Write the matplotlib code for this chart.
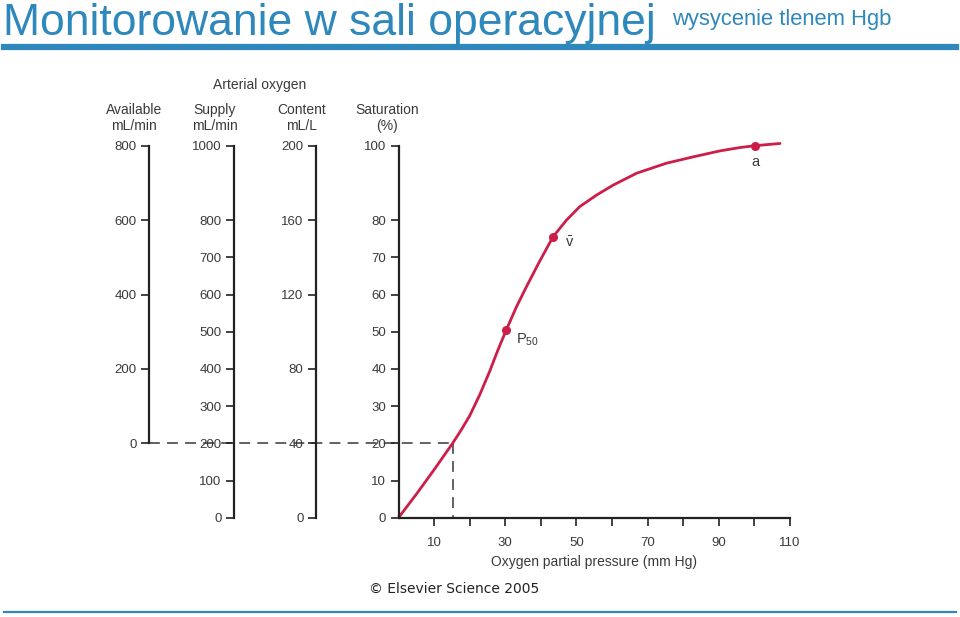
import matplotlib
matplotlib.use('Agg')
import matplotlib.pyplot as plt

plt.rcParams['font.family'] = ['Liberation Sans', 'DejaVu Sans']
plt.rcParams['mathtext.default'] = 'regular'

W, H = 960, 617

# oxygen dissociation curve
pressure = [0, 5, 10, 15.2, 17.5, 20.0, 22.8, 25.6, 27.9, 30.3, 33.1, 35.9, 39.2,
            43.4, 47.2, 50.9, 55.6, 60.3, 66.9, 75.3, 82.8, 90.3, 95.9, 100.1, 107.2]
saturation = [0, 6.3, 12.9, 20, 23.4, 27.4, 33.0, 39.3, 45, 50.5, 56.6, 62.0, 68.1,
              75.5, 80.0, 83.6, 86.7, 89.4, 92.6, 95.3, 97.0, 98.6, 99.5, 100, 100.6]

# marked points
mark_labels = ['$P_{50}$', r'$\bar{v}$', 'a']
mark_p = [30.3, 43.4, 100.1]
mark_s = [50.5, 75.5, 100]

# axis ticks
pressure_ticks = [10, 30, 50, 70, 90, 110]
pressure_minor = [20, 40, 60, 80, 100]
sat_ticks = [0, 10, 20, 30, 40, 50, 60, 70, 80, 100]
content_ticks = [0, 40, 80, 120, 160, 200]
supply_ticks = [0, 100, 200, 300, 400, 500, 600, 700, 800, 1000]
avail_ticks = [0, 200, 400, 600, 800]

# dashed reading line
read_p, read_s = 15.2, 20

blue = '#2e88bb'
red = '#cc1f48'
ink = '#222222'
label_c = '#3a3a3a'


def box(x0, y0, x1, y1):
    return [x0 / W, 1 - y1 / H, (x1 - x0) / W, (y1 - y0) / H]


def fx(x):
    return x / W


def fy(y):
    return 1 - y / H


fig = plt.figure(figsize=(9.6, 6.17), dpi=100)

# slide title
fig.text(fx(3), fy(24), 'Monitorowanie w sali operacyjnej', color=blue,
         fontsize=32, va='center', ha='left')
fig.text(fx(672), fy(19), 'wysycenie tlenem Hgb', color=blue,
         fontsize=15.8, va='center', ha='left')
fig.add_artist(plt.Line2D([fx(4), fx(956)], [fy(47), fy(47)], color=blue, lw=4.5))
fig.add_artist(plt.Line2D([fx(4), fx(956)], [fy(612), fy(612)], color=blue, lw=1.6))

tick_kw = dict(direction='out', length=6, width=1.2, colors=ink,
               labelcolor=label_c, labelsize=9.5, pad=3)

# main axes: saturation vs pressure
top, bottom = 145.7, 517.7
left, right = 398.5, 790
ax = fig.add_axes(box(left, top, right, bottom))
ax.set_xlim(0, 110)
ax.set_ylim(0, 100)
ax.patch.set_alpha(0)
for s in ['top', 'right']:
    ax.spines[s].set_visible(False)
for s in ['left', 'bottom']:
    ax.spines[s].set_linewidth(1.6)
    ax.spines[s].set_color(ink)
ax.set_xticks(pressure_ticks)
ax.set_xticks(pressure_minor, minor=True)
ax.set_yticks(sat_ticks)
ax.tick_params(axis='both', which='both', **tick_kw)
ax.tick_params(axis='x', which='major', pad=8)
ax.set_xlabel('Oxygen partial pressure (mm Hg)', fontsize=10, color=label_c, labelpad=4)

ax.plot(pressure, saturation, color=red, lw=2, clip_on=False,
        solid_capstyle='round', solid_joinstyle='round')
ax.plot(mark_p, mark_s, 'o', color=red, ms=5.5, clip_on=False)
ax.text(mark_p[0] + 2.6, mark_s[0] - 2.6, mark_labels[0], fontsize=10.5, color=label_c, va='center')
ax.text(mark_p[1] + 3.3, mark_s[1] - 1.6, mark_labels[1], fontsize=10.5, color=label_c, va='center')
ax.text(mark_p[2] + 0.3, mark_s[2] - 4.3, mark_labels[2], fontsize=10.5, color=label_c, va='center', ha='center')

# extra vertical scales
def side_axis(x, lo, hi, ticks, bounds=None):
    a = fig.add_axes(box(x, top, x + 1, bottom))
    a.set_ylim(lo, hi)
    a.patch.set_alpha(0)
    for s in ['top', 'right', 'bottom']:
        a.spines[s].set_visible(False)
    a.spines['left'].set_linewidth(1.6)
    a.spines['left'].set_color(ink)
    if bounds:
        a.spines['left'].set_bounds(*bounds)
    a.set_xticks([])
    a.set_yticks(ticks)
    a.tick_params(axis='y', **tick_kw)
    return a


side_axis(316, 0, 200, content_ticks)
side_axis(234, 0, 1000, supply_ticks)
avail_x = 149
side_axis(avail_x, -200, 800, avail_ticks, bounds=(0, 800))

# dashed reading lines (from the Available axis zero to the curve and down)
x_left = (avail_x - left) / (right - left) * 110
ax.plot([x_left, read_p], [read_s, read_s], color='#555555', lw=1.3,
        dashes=(6, 4), clip_on=False, zorder=1)
ax.plot([read_p, read_p], [read_s, 0], color='#555555', lw=1.3,
        dashes=(6, 4), clip_on=False, zorder=1)

# column headers
hdr = dict(fontsize=10, color=label_c, ha='center', va='center', linespacing=1.1)
fig.text(fx(260), fy(85), 'Arterial oxygen', **hdr)
fig.text(fx(134), fy(118), 'Available\nmL/min', **hdr)
fig.text(fx(215), fy(118), 'Supply\nmL/min', **hdr)
fig.text(fx(302), fy(118), 'Content\nmL/L', **hdr)
fig.text(fx(387), fy(118), 'Saturation\n(%)', **hdr)

fig.text(fx(369), fy(589), '\u00a9 Elsevier Science 2005', family='DejaVu Sans',
         fontsize=10, color='#222222', ha='left', va='center')

fig.savefig('out.png', dpi=100)
